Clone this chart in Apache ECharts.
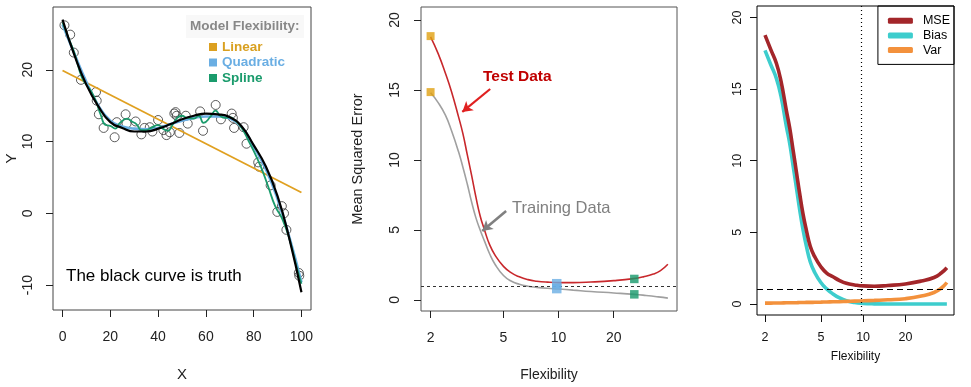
<!DOCTYPE html>
<html><head><meta charset="utf-8">
<script src="https://cdn.jsdelivr.net/npm/echarts@6/dist/echarts.min.js"></script>
<style>html,body{margin:0;padding:0;background:#fff}#c{width:971px;height:387px}</style>
</head><body><div id="c"></div>
<script>
// ---------- Panel 1 data ----------
const ptsX = [0.8,3.2,4.7,7.7,14.0,14.3,15.2,17.2,21.8,22.7,26.4,26.8,30.6,33.0,34.3,36.5,37.6,40.0,42.2,43.5,44.9,46.8,47.3,47.8,48.9,51.6,52.4,57.6,58.8,64.1,66.3,70.8,71.3,71.8,75.8,77.0,81.9,82.3,87.1,89.9,91.8,92.7,93.7,98.9,99.1];
const ptsY = [26.2,24.9,22.4,18.6,16.9,15.7,13.8,11.9,10.6,12.7,13.8,12.5,12.8,11.0,11.9,12.0,11.4,13.0,11.6,10.9,11.3,13.9,14.1,13.6,11.2,13.6,12.5,14.2,11.5,15.1,13.1,13.9,13.3,11.9,12.0,9.7,7.1,6.5,3.9,0.2,1.0,0.0,-2.3,-8.3,-8.7];
const curveX = [0,5,10,15,20,25,30,35,40,45,50,55,60,65,70,75,80,85,90,95,100];
const truthY = [27.0,22.0,17.9,14.9,12.7,11.9,11.4,11.4,11.8,12.4,13.1,13.6,13.9,13.8,13.4,12.1,9.5,6.6,2.4,-3.6,-11.0];
const quadY  = [26.3,22.2,18.3,15.0,12.9,12.1,11.8,11.7,11.9,12.4,12.9,13.3,13.5,13.5,13.2,12.0,9.3,6.2,2.0,-3.4,-9.6];
const linX = [0,100];
const linY = [19.9,2.9];
const splX = [0,3,5,8,10,12,14,16,18,20,22,24,27,29,31,33,35,37,40,42,44,46,48,50,52,55,57,59,62,64,66,68,70,72,75,78,80,83,86,89,92,95,98,100];
const splY = [26.6,24.0,22.3,19.0,17.9,17.0,15.6,13.7,12.3,12.2,11.8,12.6,13.2,12.8,12.4,11.6,11.6,11.9,12.3,11.8,11.5,12.3,13.3,13.6,13.3,13.2,13.6,12.6,13.5,14.3,13.6,13.3,13.4,13.0,11.9,10.0,8.7,6.5,3.8,1.0,-0.8,-3.6,-7.5,-9.8];
const p1XTicks = [0,20,40,60,80,100];
const p1YTicks = [-10,0,10,20];

// ---------- Panel 2 data ----------
const testFlex = [2,2.2,2.41,2.6,2.84,3.0,3.17,3.35,3.53,3.73,3.94,4.2,4.52,5,5.5,6.1,6.8,7.6,8.7,10,12,15,20,25.6,29,32.9,36,39.5];
const testMSE  = [18.8,17.6,16.2,14.9,13.1,11.9,10.4,8.9,7.4,6.0,5.0,3.95,3.15,2.4,1.95,1.65,1.45,1.34,1.27,1.24,1.24,1.28,1.38,1.52,1.65,1.85,2.1,2.55];
const trainFlex = [2,2.2,2.41,2.6,2.84,3.0,3.17,3.35,3.53,3.73,3.94,4.2,4.52,5,5.5,6.1,6.8,7.6,8.7,10,12,15,20,25.9,30,35,39.5];
const trainMSE  = [14.8,14.1,13.2,12.1,10.6,9.5,8.3,7.0,5.9,5.0,4.2,3.3,2.5,1.75,1.35,1.12,0.98,0.9,0.83,0.78,0.7,0.6,0.5,0.4,0.32,0.22,0.13];
const sqLinF = [2,2];        const sqLinV = [18.85,14.85];
const sqQuadF = [9.77,9.77]; const sqQuadV = [1.16,0.81];
const sqSplF = [25.9,25.9];  const sqSplV = [1.5,0.4];
const logTicks = [2,5,10,20];
const mseTicks = [0,5,10,15,20];

// ---------- Panel 3 data ----------
const decFlex = [2,2.2,2.41,2.6,2.84,3.0,3.17,3.35,3.53,3.73,3.94,4.2,4.52,5,5.5,6.1,6.8,7.6,8.7,10,12,15,20,26,32,36,39.5];
const decMSE  = [18.77,17.76,16.8,15.55,13.5,12.28,10.75,9.2,7.72,6.29,5.16,4.03,3.3,2.6,2.16,1.9,1.63,1.44,1.33,1.26,1.24,1.29,1.4,1.6,1.85,2.16,2.53];
const decBias = [17.7,16.7,15.75,14.5,12.4,11.2,9.65,8.1,6.6,5.2,4.05,2.95,2.2,1.5,1.05,0.7,0.42,0.23,0.1,0.04,0.01,0,0,0,0,0,0];
const decVar  = [0.06,0.06,0.07,0.07,0.08,0.08,0.09,0.09,0.1,0.1,0.11,0.11,0.12,0.13,0.14,0.15,0.16,0.18,0.2,0.22,0.25,0.29,0.37,0.55,0.8,1.1,1.5];

const zip = (a,b)=>a.map((v,i)=>[v,b[i]]);
const FF = '"Liberation Sans", Arial, sans-serif';

function xAx(gi, type, min, max, ticks, fs, col, name, nameGap, nameFs, margin){
  return {gridIndex:gi, type:type, logBase:10, min:min, max:max, name:name, nameLocation:'middle', nameGap:nameGap,
    nameTextStyle:{fontFamily:FF, fontSize:nameFs, color:col},
    axisLine:{show:false, onZero:false}, splitLine:{show:false}, minorTick:{show:false},
    axisTick:{show:true, customValues:ticks, length:7, lineStyle:{color:col, width:1}},
    axisLabel:{customValues:ticks, fontFamily:FF, fontSize:fs, color:col, margin:margin}};
}
function yAx(gi, min, max, ticks, fs, col, name, nameGap, nameFs, margin){
  return {gridIndex:gi, type:'value', min:min, max:max, name:name, nameLocation:'middle', nameGap:nameGap, nameRotate:90,
    nameTextStyle:{fontFamily:FF, fontSize:nameFs, color:col},
    axisLine:{show:false, onZero:false}, splitLine:{show:false},
    axisTick:{show:true, customValues:ticks, length:7, lineStyle:{color:col, width:1}},
    axisLabel:{customValues:ticks, rotate:90, fontFamily:FF, fontSize:fs, color:col, margin:margin}};
}

const chart = echarts.init(document.getElementById('c'), null, {renderer:'canvas'});
chart.setOption({
  animation:false,
  backgroundColor:'#fff',
  grid:[
    {left:53, top:7, width:258, height:304, show:true, borderColor:'#444', borderWidth:1, backgroundColor:'transparent'},
    {left:421, top:7, width:256, height:304, show:true, borderColor:'#555', borderWidth:1, backgroundColor:'transparent'},
    {left:757, top:6, width:197, height:309, show:true, borderColor:'#000', borderWidth:1, backgroundColor:'transparent'}
  ],
  xAxis:[
    xAx(0,'value',-4,104,p1XTicks,14,'#222','X',57,15,20),
    xAx(1,'log',1.773,44.3,logTicks,14,'#222','Flexibility',57,14,20),
    xAx(2,'log',1.754,44.4,logTicks,12.5,'#111','Flexibility',36,12,16)
  ],
  yAxis:[
    yAx(0,-13.47,28.75,p1YTicks,14,'#222','Y',34,15,18),
    yAx(1,-0.79,20.93,mseTicks,14,'#222','Mean Squared Error',56,14.5,19),
    yAx(2,-0.77,20.8,mseTicks,12.5,'#111','',0,12,13)
  ],
  legend:[
    {data:[{name:'Linear',textStyle:{color:'#D9A020'}},{name:'Quadratic',textStyle:{color:'#6AAEE3'}},{name:'Spline',textStyle:{color:'#1A9B6C'}}],
     orient:'vertical', left:204, top:34.5, icon:'rect', itemWidth:8, itemHeight:8, itemGap:0.5, selectedMode:false,
     textStyle:{fontFamily:FF, fontSize:13.5, fontWeight:'bold', lineHeight:15, padding:[0,0,0,0]}},
    {data:['MSE','Bias','Var'], orient:'vertical', right:17, top:6, icon:'roundRect', itemWidth:25, itemHeight:6, itemGap:0.7,
     selectedMode:false, borderColor:'#000', borderWidth:1, padding:[7.7,4,7.3,10],
     textStyle:{fontFamily:FF, fontSize:12.5, color:'#000', lineHeight:14, padding:[0,0,0,5]}}
  ],
  graphic:[
    {type:'rect', shape:{x:186, y:15, width:118, height:23}, style:{fill:'#f8f8f8'}, z:-1},
    {type:'text', left:190, top:19, style:{text:'Model Flexibility:', font:'bold 13.5px '+FF, fill:'#888'}},
    {type:'text', left:66, top:268, style:{text:'The black curve is truth', font:'17px '+FF, fill:'#000'}},
    {type:'text', left:483, top:69, style:{text:'Test Data', font:'bold 15.5px '+FF, fill:'#C00000'}},
    {type:'text', left:512, top:200, style:{text:'Training Data', font:'16.5px '+FF, fill:'#808080'}}
  ],
  series:[
    {type:'scatter', xAxisIndex:0, yAxisIndex:0, data:zip(ptsX,ptsY), symbol:'circle', symbolSize:9,
     itemStyle:{color:'rgba(0,0,0,0)', borderColor:'#333', borderWidth:1}, z:2},
    {name:'Linear', type:'line', xAxisIndex:0, yAxisIndex:0, data:zip(linX,linY), showSymbol:false,
     lineStyle:{color:'#E0A020', width:1.8}, itemStyle:{color:'#DCA020'}, z:3},
    {name:'Quadratic', type:'line', xAxisIndex:0, yAxisIndex:0, data:zip(curveX,quadY), showSymbol:false, smooth:true,
     lineStyle:{color:'#6AAEE3', width:2.6}, itemStyle:{color:'#6AAEE3'}, z:3},
    {name:'Spline', type:'line', xAxisIndex:0, yAxisIndex:0, data:zip(splX,splY), showSymbol:false, smooth:true,
     lineStyle:{color:'#1A9B6C', width:1.8}, itemStyle:{color:'#1A9B6C'}, z:4},
    {name:'Truth', type:'line', xAxisIndex:0, yAxisIndex:0, data:zip(curveX,truthY), showSymbol:false, smooth:true,
     lineStyle:{color:'#000', width:2.2}, z:5},

    {name:'Test', type:'line', xAxisIndex:1, yAxisIndex:1, data:zip(testFlex,testMSE), showSymbol:false, smooth:true,
     lineStyle:{color:'#C8282C', width:1.6}, z:3,
     markLine:{silent:true, symbol:['none','none'], label:{show:false},
       data:[{yAxis:1, lineStyle:{color:'#333', type:[3,3], width:1}}]}},
    {name:'Train', type:'line', xAxisIndex:1, yAxisIndex:1, data:zip(trainFlex,trainMSE), showSymbol:false, smooth:true,
     lineStyle:{color:'#A0A0A0', width:1.6}, z:3,
     markLine:{silent:true, symbol:['none','arrow'], symbolSize:[9,10], label:{show:false},
       data:[
         [{coord:[4.23,15.07], lineStyle:{color:'#E02020', width:2.2, type:'solid'}},{coord:[2.98,13.43]}],
         [{coord:[5.17,6.36], lineStyle:{color:'#808080', width:2.6, type:'solid'}},{coord:[3.83,4.93]}]
       ]}},
    {name:'sqLin', type:'scatter', xAxisIndex:1, yAxisIndex:1, data:zip(sqLinF,sqLinV), symbol:'rect', symbolSize:8, itemStyle:{color:'#E0A010'}, z:6},
    {name:'sqQuad', type:'scatter', xAxisIndex:1, yAxisIndex:1, data:zip(sqQuadF,sqQuadV), symbol:'rect', symbolSize:9.5, itemStyle:{color:'#6AAEE3'}, z:6},
    {name:'sqSpl', type:'scatter', xAxisIndex:1, yAxisIndex:1, data:zip(sqSplF,sqSplV), symbol:'rect', symbolSize:8.5, itemStyle:{color:'#15996A'}, z:6},

    {name:'MSE', type:'line', xAxisIndex:2, yAxisIndex:2, data:zip(decFlex,decMSE), showSymbol:false, smooth:true,
     lineStyle:{color:'#A3262A', width:3.6}, itemStyle:{color:'#A3262A'}, z:5,
     markLine:{silent:true, symbol:['none','none'], label:{show:false},
       data:[{yAxis:1, lineStyle:{color:'#000', type:[6,4], width:1}},
             {xAxis:9.72, lineStyle:{color:'#000', type:[1,3], width:1.2}}]}},
    {name:'Bias', type:'line', xAxisIndex:2, yAxisIndex:2, data:zip(decFlex,decBias), showSymbol:false, smooth:true,
     lineStyle:{color:'#3DCDCD', width:3.6}, itemStyle:{color:'#3DCDCD'}, z:4},
    {name:'Var', type:'line', xAxisIndex:2, yAxisIndex:2, data:zip(decFlex,decVar), showSymbol:false, smooth:true,
     lineStyle:{color:'#F3913C', width:3.6}, itemStyle:{color:'#F3913C'}, z:4}
  ]
});
</script></body></html>
